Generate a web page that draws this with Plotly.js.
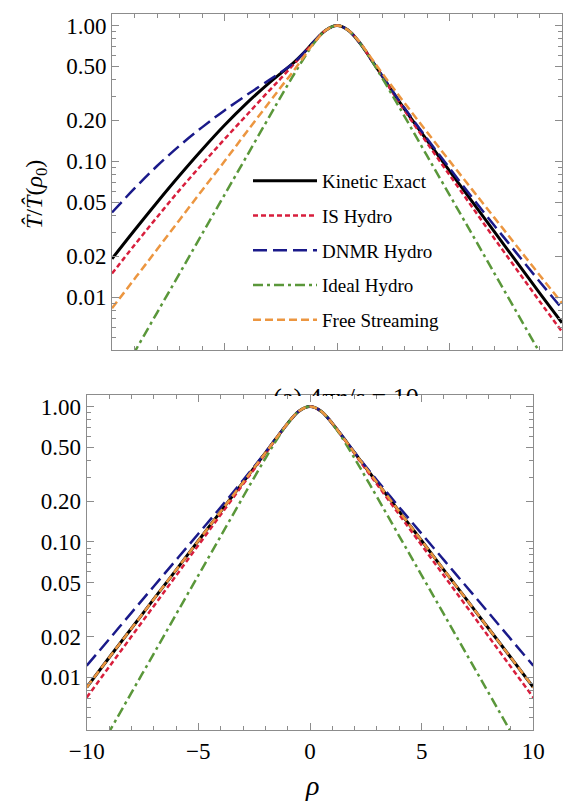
<!DOCTYPE html>
<html><head><meta charset="utf-8">
<script src="https://cdn.plot.ly/plotly-3.0.1.min.js"></script>
<style>html,body{margin:0;padding:0;background:#fff}#chart{width:563px;height:802px}</style>
</head><body><div id="chart"></div>
<script>
// rapidity grid (rho)
const rho = [-10,-9,-8,-7,-6,-5,-4,-3,-2.5,-2,-1.5,-1,-0.5,0,0.5,1,1.5,2,2.5,3,4,5,6,7,8,9,10];
const seriesNames = ["Kinetic Exact","IS Hydro","DNMR Hydro","Ideal Hydro","Free Streaming"];

// Panel (a): 4πη/s = 10
const kineticA = [0.01914,0.03105,0.04977,0.07852,0.1216,0.1841,0.2692,0.3802,0.4446,0.5188,0.6237,0.7674,0.923,1,0.923,0.750,0.5689,0.4266,0.3199,0.2427,0.1429,0.0851,0.0507,0.0302,0.0180,0.01072,0.00646];
const isA      = [0.01489,0.02415,0.03873,0.06138,0.09506,0.1455,0.2203,0.3334,0.4074,0.5012,0.6166,0.7621,0.923,1,0.923,0.750,0.5689,0.4246,0.3162,0.2371,0.1365,0.0794,0.0462,0.0269,0.01585,0.00933,0.00556];
const dnmrA    = [0.04198,0.0631,0.0923,0.1303,0.1778,0.2371,0.309,0.398,0.4519,0.5188,0.6237,0.7709,0.923,1,0.923,0.750,0.5689,0.4285,0.3236,0.2466,0.1472,0.0891,0.0543,0.0335,0.0209,0.01303,0.00822];
const idealA   = [0.00202,0.00393,0.00766,0.0149,0.0291,0.0566,0.110,0.2145,0.2985,0.413,0.565,0.749,0.923,1,0.923,0.749,0.565,0.413,0.2985,0.2145,0.110,0.0566,0.0291,0.0149,0.00766,0.00393,0.00202];
const freeA    = [0.00826,0.0136,0.0224,0.0370,0.0610,0.100,0.166,0.273,0.351,0.447,0.582,0.753,0.923,1,0.923,0.7586,0.582,0.4467,0.3467,0.2692,0.1641,0.1007,0.0621,0.0383,0.0236,0.01455,0.00902];

// Panel (b)
const kineticB = [0.00841,0.01393,0.0229,0.0377,0.0619,0.1019,0.1675,0.275,0.353,0.454,0.586,0.750,0.923,1,0.923,0.750,0.586,0.454,0.353,0.275,0.1675,0.1019,0.0619,0.0377,0.0229,0.01393,0.00841];
const isB      = [0.00708,0.01189,0.01995,0.0335,0.0562,0.0944,0.1585,0.266,0.344,0.447,0.582,0.750,0.923,1,0.923,0.750,0.582,0.447,0.344,0.266,0.1585,0.0944,0.0562,0.0335,0.01995,0.01189,0.00708];
const dnmrB    = [0.01216,0.01905,0.0299,0.0468,0.0733,0.1148,0.180,0.285,0.3606,0.459,0.589,0.750,0.923,1,0.923,0.750,0.589,0.459,0.3606,0.285,0.180,0.1148,0.0733,0.0468,0.0299,0.01905,0.01216];
const idealB   = [0.00202,0.00393,0.00766,0.0149,0.0291,0.0566,0.110,0.2145,0.2985,0.413,0.565,0.749,0.923,1,0.923,0.749,0.565,0.413,0.2985,0.2145,0.110,0.0566,0.0291,0.0149,0.00766,0.00393,0.00202];
const freeB    = [0.00841,0.01393,0.0229,0.0377,0.0619,0.1019,0.1675,0.275,0.353,0.454,0.586,0.750,0.923,1,0.923,0.750,0.586,0.454,0.353,0.275,0.1675,0.1019,0.0619,0.0377,0.0229,0.01393,0.00841];

const yTickVals = [0.01,0.02,0.05,0.1,0.2,0.5,1];
const yTickText = ["0.01","0.02","0.05","0.10","0.20","0.50","1.00"];
const yMinorVals = [0.005,0.006,0.007,0.008,0.009,0.03,0.04,0.06,0.07,0.08,0.09,0.3,0.4,0.6,0.7,0.8,0.9];
const xTickVals = [-10,-5,0,5,10];
const xTickText = ["\u221210","\u22125","0","5","10"];
const xMinorVals = [-9,-8,-7,-6,-4,-3,-2,-1,1,2,3,4,6,7,8,9];
const caption = "(a) 4<i>πη</i>/<i>s</i> = 10";

const styles = [
  {color:"#000000", width:3, dash:"solid"},
  {color:"#d81e3c", width:2.5, dash:"5px,3px"},
  {color:"#1a1a8a", width:2.5, dash:"14px,6px"},
  {color:"#5a973a", width:2.5, dash:"10px,4px,3px,4px"},
  {color:"#ec9640", width:2.5, dash:"8px,4px"}
];
const panelA = [kineticA,isA,dnmrA,idealA,freeA];
const panelB = [kineticB,isB,dnmrB,idealB,freeB];

const traces = [];
panelA.forEach((ys,i)=>traces.push({x:rho,y:ys,xaxis:"x",yaxis:"y",mode:"lines",name:seriesNames[i],
  legendgroup:"g"+i,showlegend:true,line:Object.assign({shape:"spline"},styles[i]),hoverinfo:"skip"}));
panelB.forEach((ys,i)=>traces.push({x:rho,y:ys,xaxis:"x2",yaxis:"y2",mode:"lines",name:seriesNames[i],
  legendgroup:"g"+i,showlegend:false,line:Object.assign({shape:"spline"},styles[i]),hoverinfo:"skip"}));
traces.push({x:[346],y:[399],xaxis:"x3",yaxis:"y3",mode:"text",text:[caption],cliponaxis:true,
  textposition:"middle center",textfont:{family:"Liberation Serif",size:26,color:"#000"},showlegend:false,hoverinfo:"skip"});

const W=563,H=802;
const serif = "Liberation Serif, Times New Roman, serif";
const tickFont = {family:serif,size:23,color:"#000"};
function xAx(domain, anchor, labels){
  return {domain:domain,anchor:anchor,range:[-10,10],showline:true,mirror:"ticks",linecolor:"#8c8c8c",linewidth:1,
    ticks:"inside",ticklen:7,tickcolor:"#8c8c8c",tickvals:xTickVals,ticktext:xTickText,showticklabels:labels,
    tickfont:tickFont,showgrid:false,zeroline:false,
    minor:{tickvals:xMinorVals,ticks:"inside",ticklen:4,tickcolor:"#8c8c8c",showgrid:false}};
}
function yAx(domain, anchor){
  return {domain:domain,anchor:anchor,type:"log",range:[-2.39,0.085],showline:true,mirror:"ticks",linecolor:"#8c8c8c",linewidth:1,
    ticks:"inside",ticklen:7,tickcolor:"#8c8c8c",tickvals:yTickVals,ticktext:yTickText,tickfont:tickFont,
    showgrid:false,zeroline:false,
    minor:{tickvals:yMinorVals,ticks:"inside",ticklen:4,tickcolor:"#8c8c8c",showgrid:false}};
}
const layout = {
  width:W,height:H,margin:{l:0,r:0,t:0,b:0},paper_bgcolor:"#fff",plot_bgcolor:"rgba(0,0,0,0)",
  font:{family:serif,color:"#000"},
  xaxis:xAx([112/W,562/W],"y",false),
  yaxis:yAx([1-350/H,1-14/H],"x"),
  xaxis2:xAx([86.7/W,533.3/W],"y2",true),
  yaxis2:yAx([1-730/H,1-395/H],"x2"),
  xaxis3:{domain:[0,1],range:[0,W],visible:false,anchor:"y3",fixedrange:true},
  yaxis3:{domain:[1-396/H,1-360/H],range:[396,360],visible:false,anchor:"x3",fixedrange:true},
  showlegend:true,
  legend:{x:248/W,y:1-162/H,xanchor:"left",yanchor:"top",bgcolor:"rgba(0,0,0,0)",borderwidth:0,
    font:{family:serif,size:19,color:"#000"},tracegroupgap:7,itemwidth:64,traceorder:"grouped"},
  annotations:[
    {xref:"paper",yref:"paper",x:36/W,y:1-195/H,text:"<i>T̂</i>/<i>T̂</i>(<i>ρ</i><sub>0</sub>)",textangle:-90,
     showarrow:false,font:{family:serif,size:24,color:"#000"},xanchor:"center",yanchor:"middle"},
    {xref:"paper",yref:"paper",x:312/W,y:1-785/H,text:"<i>ρ</i>",showarrow:false,
     font:{family:serif,size:28,color:"#000"},xanchor:"center",yanchor:"middle"}
  ]
};
Plotly.newPlot("chart",traces,layout,{staticPlot:true,displayModeBar:false});
</script></body></html>
